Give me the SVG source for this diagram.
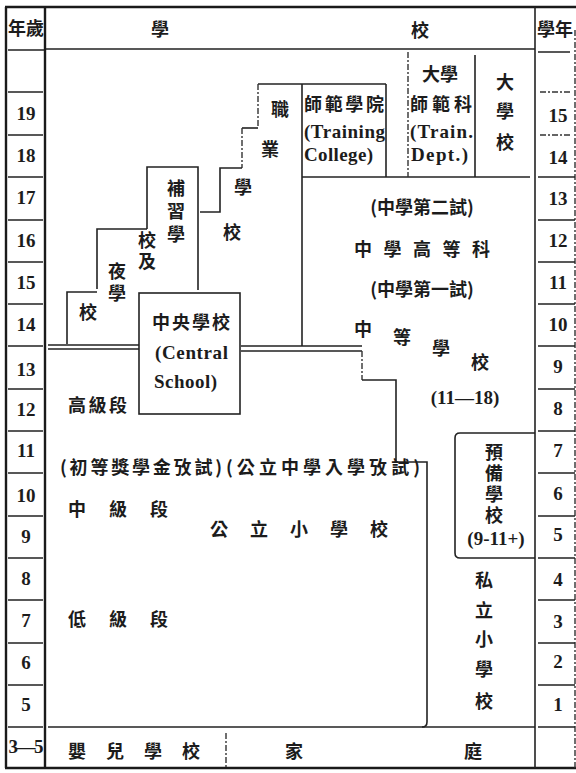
<svg xmlns="http://www.w3.org/2000/svg" width="576" height="773" viewBox="0 0 576 773">
<style>
.cj{font-family:"Noto Sans CJK TC","Noto Sans CJK JP",sans-serif;font-weight:700;font-size:18px;fill:#1c1c1c}
.en{font-family:"Liberation Serif",serif;font-weight:700;font-size:19px;fill:#1c1c1c}
.num{font-family:"Liberation Serif",serif;font-weight:700;font-size:19px;fill:#1c1c1c;text-anchor:middle}
.mid{text-anchor:middle}
.vt{writing-mode:vertical-rl;text-orientation:upright}
.ln{stroke:#222;stroke-width:1.6;fill:none}
.thk{stroke:#1a1a1a;stroke-width:2.4;fill:none}
.dsh{stroke:#333;stroke-width:1.4;fill:none;stroke-dasharray:6 2 2 2}
</style>
<rect x="0" y="0" width="576" height="773" fill="#ffffff"/>

<g id="connectors">
  <!-- outer frame -->
  <path class="thk" d="M5,7 H576 M5,768 H576 M6,7 V768 M45,7 V768"/>
  <path class="ln" d="M535,7 V768"/>
  <path class="dsh" d="M575,30 V768"/>
  <!-- header bottom -->
  <path class="ln" d="M46,49 H535 M8,50 H44 M538,52 H570"/>
  <!-- age column rows -->
  <path class="ln" d="M8,92 H43 M8,135 H43 M8,177 H43 M8,220 H43 M8,262 H43 M8,304 H43 M8,346 H43 M8,389 H43 M8,431 H43 M8,473 H43 M8,516 H43 M8,558 H43 M8,600 H43 M8,643 H43 M8,685 H43 M8,727 H43"/>
  <!-- grade column rows -->
  <path class="dsh" d="M540,92 H570 M540,135 H570"/>
  <path class="ln" d="M538,177 H575 M538,220 H575 M538,262 H575 M538,304 H575 M538,346 H575 M538,389 H575 M538,431 H575 M538,473 H575 M538,516 H575 M538,558 H575 M538,600 H575 M538,643 H575 M538,685 H575 M538,727 H575"/>
  <!-- bottom row -->
  <path class="ln" d="M48,727 H535"/>
  <path class="dsh" d="M226,733 V768"/>
  <!-- double lines at age 13/14 boundary -->
  <path class="ln" d="M48,345 H139 M48,349 H139"/>
  <path class="ln" d="M241,346 H362 M241,351 H362"/>
  <!-- secondary school left edge -->
  <path class="ln" d="M302,84 V346"/>
  <!-- vocational school staircase -->
  <path class="ln" d="M258,84 H386"/>
  <path class="dsh" d="M258,84 V128"/>
  <path class="ln" d="M258,128 H242"/>
  <path class="dsh" d="M242,128 V168"/>
  <path class="ln" d="M242,168 H220 V212 H200"/>
  <!-- continuation school -->
  <path class="ln" d="M147,229 V167 H198 V290"/>
  <!-- night school -->
  <path class="ln" d="M97,289 V229 H147"/>
  <path class="ln" d="M67,344 V292 H97"/>
  <!-- training college -->
  <path class="ln" d="M386,84 V177"/>
  <path class="ln" d="M302,177 H530"/>
  <!-- university training dept -->
  <path class="dsh" d="M408,52 V177"/>
  <path class="ln" d="M475,55 V177"/>
  <!-- secondary school lower edge -->
  <path class="dsh" d="M362,351 V380"/>
  <path class="ln" d="M362,380 H396 V462 H427 V722 Q427,727 422,727"/>
</g>

<g id="header">
  <text class="cj mid" x="26" y="35" font-size="17">年歲</text>
  <text class="cj mid" x="160" y="36">學</text>
  <text class="cj mid" x="420" y="37">校</text>
  <text class="cj" x="537" y="36" font-size="17">學年</text>
</g>

<g id="age-column">
  <text class="num" x="26" y="120">19</text>
  <text class="num" x="26" y="162">18</text>
  <text class="num" x="26" y="204">17</text>
  <text class="num" x="26" y="247">16</text>
  <text class="num" x="26" y="289">15</text>
  <text class="num" x="26" y="331">14</text>
  <text class="num" x="26" y="376">13</text>
  <text class="num" x="26" y="416">12</text>
  <text class="num" x="26" y="457">11</text>
  <text class="num" x="26" y="502">10</text>
  <text class="num" x="26" y="543">9</text>
  <text class="num" x="26" y="585">8</text>
  <text class="num" x="26" y="627">7</text>
  <text class="num" x="26" y="669">6</text>
  <text class="num" x="26" y="711">5</text>
  <text class="num" x="26" y="753" font-size="16" textLength="35">3—5</text>
</g>

<g id="grade-column">
  <text class="num" x="558" y="122">15</text>
  <text class="num" x="558" y="164">14</text>
  <text class="num" x="558" y="205">13</text>
  <text class="num" x="558" y="247">12</text>
  <text class="num" x="558" y="289">11</text>
  <text class="num" x="558" y="331">10</text>
  <text class="num" x="558" y="373">9</text>
  <text class="num" x="558" y="415">8</text>
  <text class="num" x="558" y="457">7</text>
  <text class="num" x="558" y="500">6</text>
  <text class="num" x="558" y="541">5</text>
  <text class="num" x="558" y="586">4</text>
  <text class="num" x="558" y="628">3</text>
  <text class="num" x="558" y="668">2</text>
  <text class="num" x="558" y="711">1</text>
</g>

<g id="university">
  <text class="cj mid" x="505" y="89">大</text>
  <text class="cj mid" x="505" y="118">學</text>
  <text class="cj mid" x="505" y="149">校</text>
</g>

<g id="university-training-dept">
  <text class="cj mid" x="440" y="81" font-size="16">大學</text>
  <text class="cj" x="410" y="111" font-size="16" textLength="62">師範科</text>
  <text class="en" x="410" y="138" font-weight="400" textLength="63">(Train.</text>
  <text class="en" x="411" y="161" font-weight="400" textLength="57">Dept.)</text>
</g>

<g id="training-college">
  <text class="cj" x="304" y="111" font-size="16" textLength="80">師範學院</text>
  <text class="en" x="304" y="138" font-weight="400" textLength="81">(Training</text>
  <text class="en" x="304" y="161" font-weight="400" textLength="69">College)</text>
</g>

<g id="vocational-school">
  <text class="cj mid" x="280" y="116">職</text>
  <text class="cj mid" x="270" y="156">業</text>
  <text class="cj mid" x="243" y="194">學</text>
  <text class="cj mid" x="232" y="239">校</text>
</g>

<g id="continuation-and-night-school">
  <text class="cj vt" x="176" y="179" font-size="17" letter-spacing="5">補習學</text>
  <text class="cj vt" x="147" y="231" font-size="17" letter-spacing="3">校及</text>
  <text class="cj vt" x="117" y="262" font-size="17" letter-spacing="4">夜學</text>
  <text class="cj mid" x="88" y="319">校</text>
</g>

<g id="central-school">
  <rect class="ln" x="139" y="293" width="101" height="121"/>
  <text class="cj" x="152" y="329" textLength="78">中央學校</text>
  <text class="en" x="155" y="359" font-weight="400" font-size="20" textLength="73">(Central</text>
  <text class="en" x="154" y="388" font-weight="400" font-size="20" textLength="63">School)</text>
</g>

<g id="secondary-school">
  <text class="cj mid" x="422" y="214">(中學第二試)</text>
  <text class="cj" x="354" y="256" textLength="136">中學高等科</text>
  <text class="cj mid" x="422" y="296">(中學第一試)</text>
  <text class="cj mid" x="363" y="336">中</text>
  <text class="cj mid" x="402" y="344">等</text>
  <text class="cj mid" x="441" y="355">學</text>
  <text class="cj mid" x="480" y="369">校</text>
  <text class="en mid" x="465" y="404" font-size="20">(11—18)</text>
</g>

<g id="preparatory-school">
  <path class="ln" d="M535,433 H460 Q455,433 455,438 V553 Q455,558 460,558 H535"/>
  <text class="cj vt" x="494" y="443" font-size="15" letter-spacing="3">預備學校</text>
  <text class="en mid" x="496" y="545" font-size="18">(9-11+)</text>
</g>

<g id="public-elementary-school">
  <text class="cj" x="68" y="412" textLength="59">高級段</text>
  <text class="cj" x="60" y="474" textLength="162">(初等獎學金攷試)</text>
  <text class="cj" x="226" y="474" textLength="194">(公立中學入學攷試)</text>
  <text class="cj" x="68" y="516" textLength="100">中級段</text>
  <text class="cj" x="210" y="536" textLength="178">公立小學校</text>
  <text class="cj" x="68" y="626" textLength="100">低級段</text>
</g>

<g id="private-elementary-school">
  <text class="cj mid" x="484" y="587">私</text>
  <text class="cj mid" x="484" y="617">立</text>
  <text class="cj mid" x="484" y="646">小</text>
  <text class="cj mid" x="484" y="676">學</text>
  <text class="cj mid" x="484" y="708">校</text>
</g>

<g id="infant-school">
  <text class="cj" x="68" y="758" textLength="132">嬰兒學校</text>
</g>

<g id="home">
  <text class="cj mid" x="294" y="758">家</text>
  <text class="cj mid" x="473" y="758">庭</text>
</g>
</svg>
